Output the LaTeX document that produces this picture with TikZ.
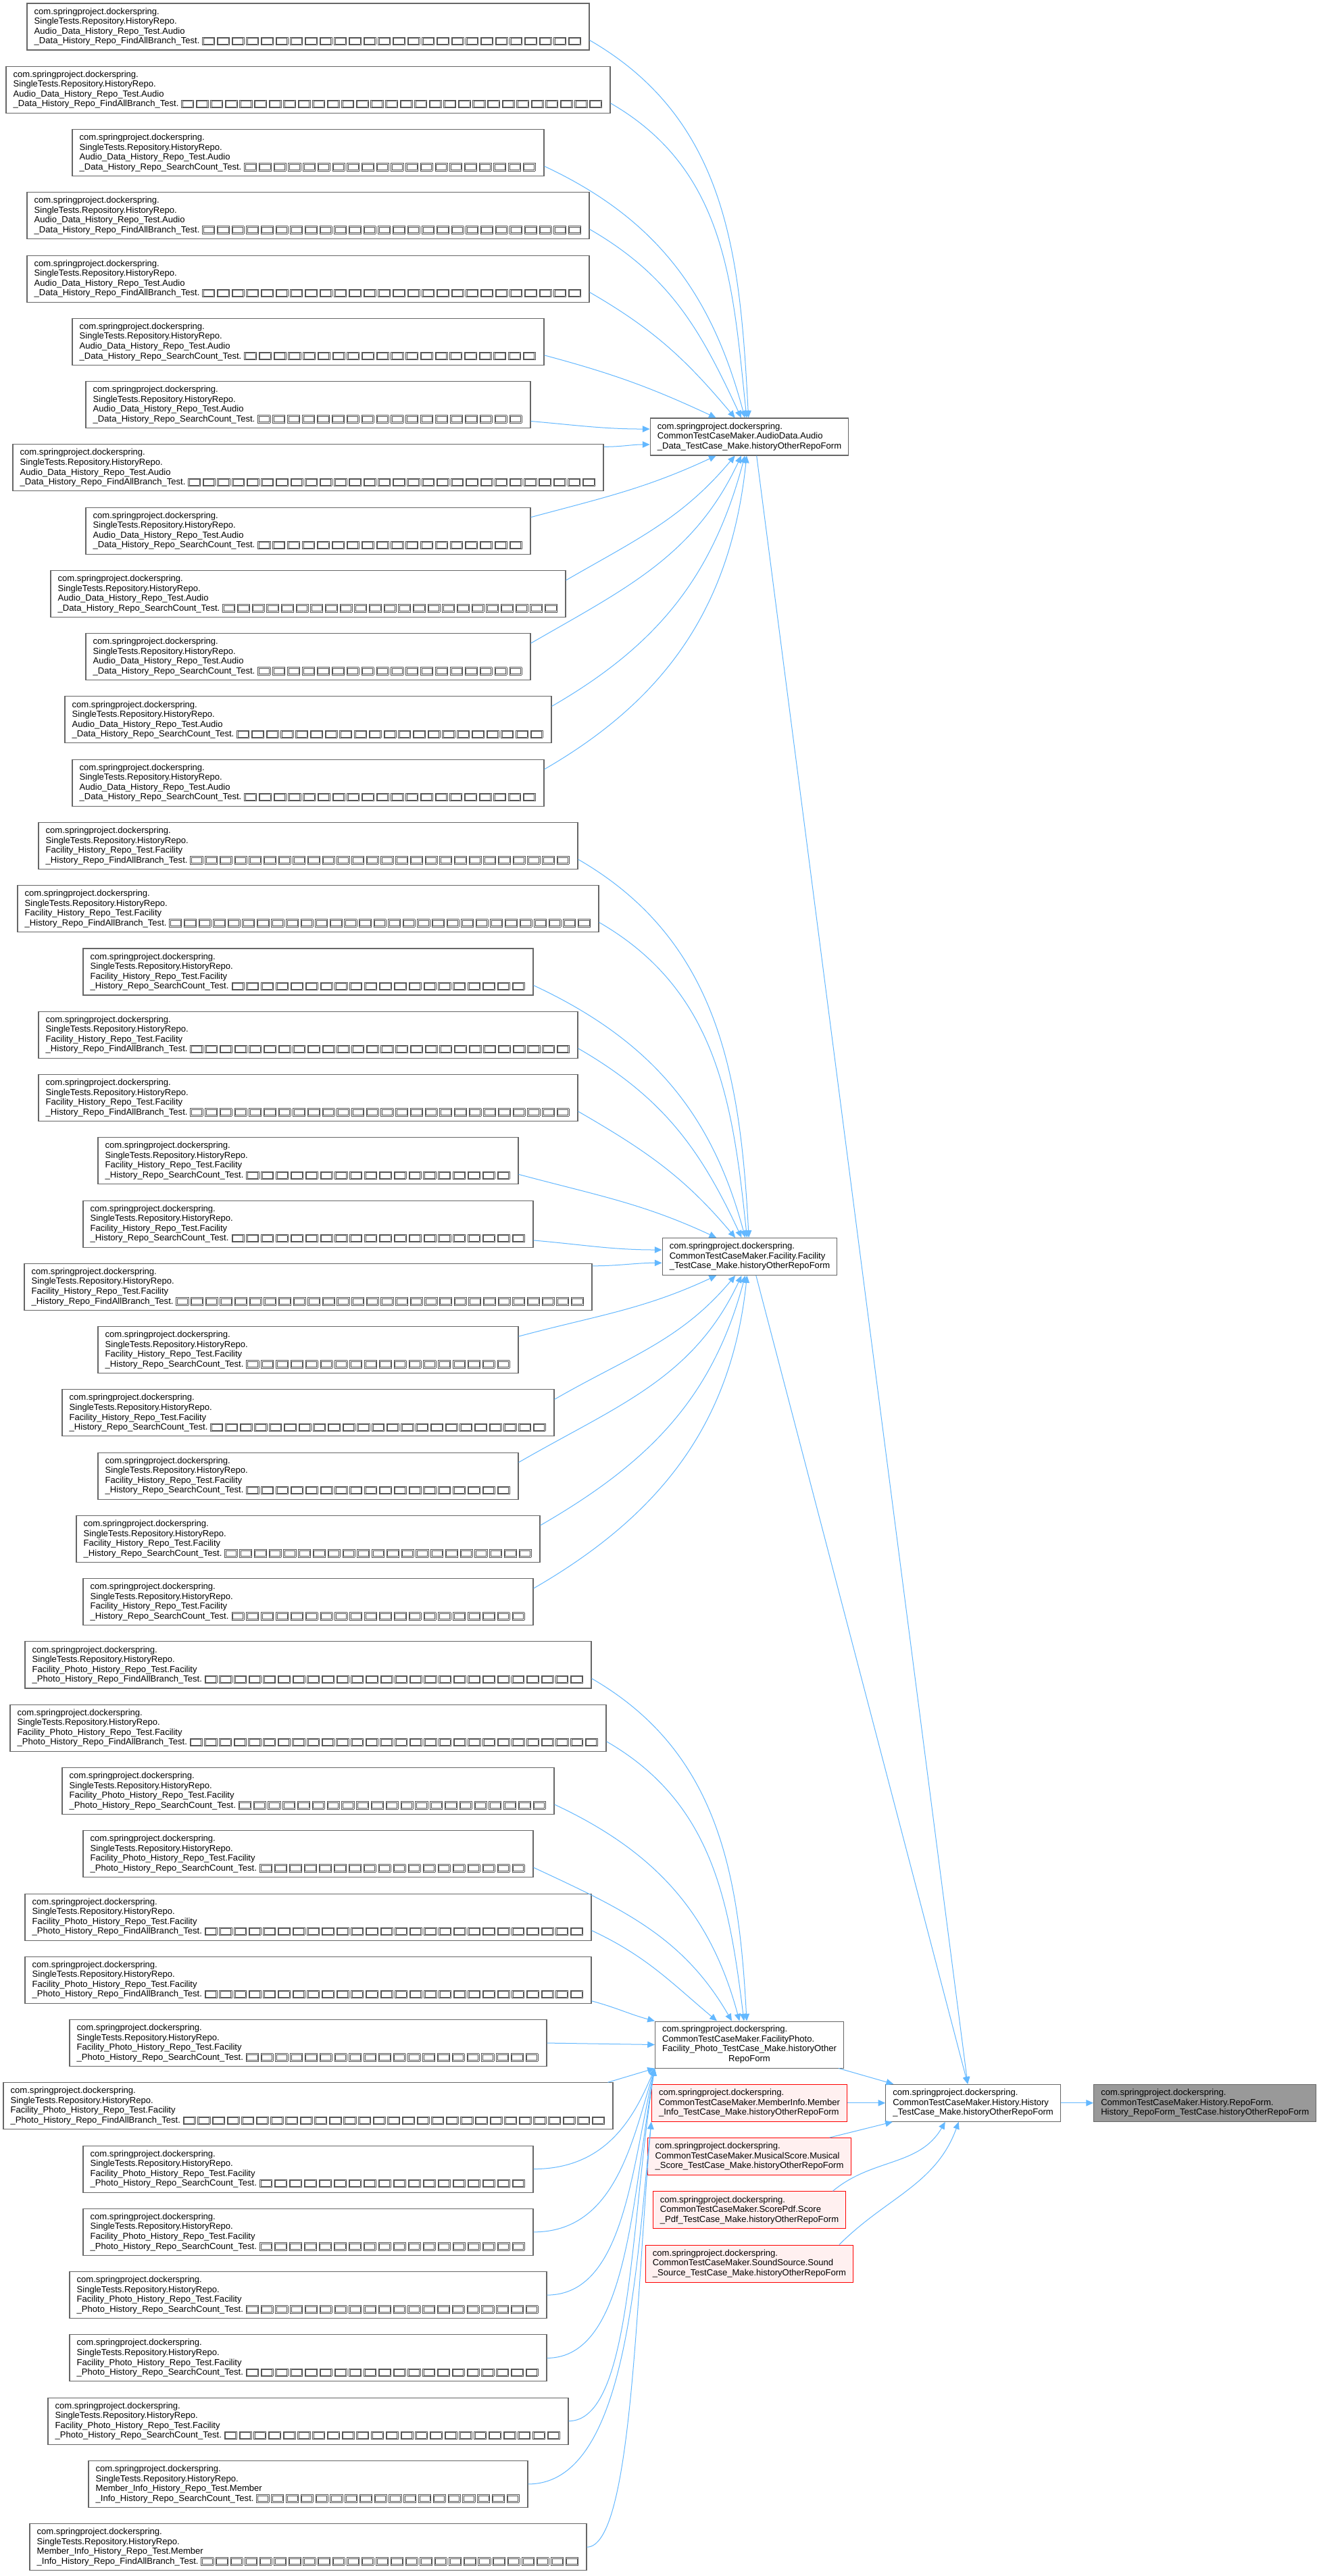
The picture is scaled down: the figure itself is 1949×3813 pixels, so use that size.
\documentclass[tikz,border=0pt]{standalone}
\usepackage{fontspec}
\setmainfont{Liberation Sans}
\usepackage{xcolor}
\usetikzlibrary{arrows.meta, positioning}
\definecolor{grey40}{HTML}{666666}
\definecolor{grey60}{HTML}{999999}
\definecolor{steelblue}{HTML}{63B8FF}
\definecolor{pinkbg}{HTML}{FFF0F0}
\definecolor{redline}{HTML}{FF0000}
\definecolor{tofugrey}{HTML}{555555}

% missing-glyph box, as the picture prints the Japanese part of the names
\newcommand{\tofu}{\hbox to 15.75pt{\hss\color{tofugrey}\fboxsep=0.7pt\fboxrule=0.4pt\fbox{\fboxsep=0pt\fbox{\rule{0pt}{6pt}\hspace{11pt}}}\hss}}
\newcommand{\tofurow}{\hspace{1.5pt}\xleaders\hbox{\tofu}\hfill\kern0pt}

\newcommand{\audiotest}[1]{com.springproject.dockerspring.\\SingleTests.Repository.HistoryRepo.\\Audio\_Data\_History\_Repo\_Test.Audio\\\_Data\_History\_Repo\_#1\_Test.\tofurow}
\newcommand{\facilitytest}[1]{com.springproject.dockerspring.\\SingleTests.Repository.HistoryRepo.\\Facility\_History\_Repo\_Test.Facility\\\_History\_Repo\_#1\_Test.\tofurow}
\newcommand{\phototest}[1]{com.springproject.dockerspring.\\SingleTests.Repository.HistoryRepo.\\Facility\_Photo\_History\_Repo\_Test.Facility\\\_Photo\_History\_Repo\_#1\_Test.\tofurow}
\newcommand{\membertest}[1]{com.springproject.dockerspring.\\SingleTests.Repository.HistoryRepo.\\Member\_Info\_History\_Repo\_Test.Member\\\_Info\_History\_Repo\_#1\_Test.\tofurow}

\begin{document}
\begin{tikzpicture}[x=0.75pt, y=-0.75pt, node distance=17.4pt,
  boxbase/.style={rectangle, draw=grey40, fill=white, line width=0.8pt, inner xsep=8pt, inner ysep=3pt, font={\fontsize{9.8pt}{10.9pt}\selectfont}},
  caller/.style={boxbase, text width=#1, minimum height=51.75pt, align=left},
  hub/.style={boxbase, minimum height=41.25pt, align=left},
  nodoc/.style={hub, draw=redline, fill=pinkbg},
  focus/.style={hub, fill=grey60},
  callto/.style={draw=steelblue, line width=0.75pt, -{Triangle[length=8pt,width=7pt]}}
]
\useasboundingbox (0,0) rectangle (1949,3813);
\fill[white] (0,0) rectangle (1949,3813);

% Audio tests
\node[caller=608pt] (a1) at (456,39.5) {\audiotest{FindAllBranch}};
\node[caller=654.5pt, below=of a1] (a2) {\audiotest{FindAllBranch}};
\node[caller=507.5pt, below=of a2] (a3) {\audiotest{SearchCount}};
\node[caller=608pt, below=of a3] (a4) {\audiotest{FindAllBranch}};
\node[caller=608pt, below=of a4] (a5) {\audiotest{FindAllBranch}};
\node[caller=507.5pt, below=of a5] (a6) {\audiotest{SearchCount}};
\node[caller=477.5pt, below=of a6] (a7) {\audiotest{SearchCount}};
\node[caller=639.5pt, below=of a7] (a8) {\audiotest{FindAllBranch}};
\node[caller=477.5pt, below=of a8] (a9) {\audiotest{SearchCount}};
\node[caller=555.5pt, below=of a9] (a10) {\audiotest{SearchCount}};
\node[caller=477.5pt, below=of a10] (a11) {\audiotest{SearchCount}};
\node[caller=524pt, below=of a11] (a12) {\audiotest{SearchCount}};
\node[caller=507.5pt, below=of a12] (a13) {\audiotest{SearchCount}};
% Facility tests
\node[caller=582.5pt, below=of a13] (f1) {\facilitytest{FindAllBranch}};
\node[caller=629pt, below=of f1] (f2) {\facilitytest{FindAllBranch}};
\node[caller=483.5pt, below=of f2] (f3) {\facilitytest{SearchCount}};
\node[caller=582.5pt, below=of f3] (f4) {\facilitytest{FindAllBranch}};
\node[caller=582.5pt, below=of f4] (f5) {\facilitytest{FindAllBranch}};
\node[caller=450.5pt, below=of f5] (f6) {\facilitytest{SearchCount}};
\node[caller=483.5pt, below=of f6] (f7) {\facilitytest{SearchCount}};
\node[caller=614pt, below=of f7] (f8) {\facilitytest{FindAllBranch}};
\node[caller=450.5pt, below=of f8] (f9) {\facilitytest{SearchCount}};
\node[caller=530pt, below=of f9] (f10) {\facilitytest{SearchCount}};
\node[caller=450.5pt, below=of f10] (f11) {\facilitytest{SearchCount}};
\node[caller=498.5pt, below=of f11] (f12) {\facilitytest{SearchCount}};
\node[caller=483.5pt, below=of f12] (f13) {\facilitytest{SearchCount}};
% Facility photo tests
\node[caller=612.5pt, below=of f13] (p1) {\phototest{FindAllBranch}};
\node[caller=645.5pt, below=of p1] (p2) {\phototest{FindAllBranch}};
\node[caller=530pt, below=of p2] (p3) {\phototest{SearchCount}};
\node[caller=483.5pt, below=of p3] (p4) {\phototest{SearchCount}};
\node[caller=612.5pt, below=of p4] (p5) {\phototest{FindAllBranch}};
\node[caller=612.5pt, below=of p5] (p6) {\phototest{FindAllBranch}};
\node[caller=513.5pt, below=of p6] (p7) {\phototest{SearchCount}};
\node[caller=660.5pt, below=of p7] (p8) {\phototest{FindAllBranch}};
\node[caller=483.5pt, below=of p8] (p9) {\phototest{SearchCount}};
\node[caller=483.5pt, below=of p9] (p10) {\phototest{SearchCount}};
\node[caller=513.5pt, below=of p10] (p11) {\phototest{SearchCount}};
\node[caller=513.5pt, below=of p11] (p12) {\phototest{SearchCount}};
\node[caller=561.5pt, below=of p12] (p13) {\phototest{SearchCount}};
% Member info tests
\node[caller=471.5pt, below=of p13] (m1) {\membertest{SearchCount}};
\node[caller=602pt, below=of m1] (m2) {\membertest{FindAllBranch}};

% test case makers
\node[hub] (aud) at (1109,646.5) {com.springproject.dockerspring.\\CommonTestCaseMaker.AudioData.Audio\\\_Data\_TestCase\_Make.historyOtherRepoForm};
\node[hub] (fac) at (1109.5,1860) {com.springproject.dockerspring.\\CommonTestCaseMaker.Facility.Facility\\\_TestCase\_Make.historyOtherRepoForm};
\node[boxbase, minimum height=51.75pt] (pho) at (1109,3026.5) {\begin{tabular}{@{}l@{}}com.springproject.dockerspring.\\CommonTestCaseMaker.FacilityPhoto.\\Facility\_Photo\_TestCase\_Make.historyOther\\\multicolumn{1}{@{}c@{}}{RepoForm}\end{tabular}};
\node[nodoc, below=of pho] (mem) {com.springproject.dockerspring.\\CommonTestCaseMaker.MemberInfo.Member\\\_Info\_TestCase\_Make.historyOtherRepoForm};
\node[nodoc, below=of mem] (mus) {com.springproject.dockerspring.\\CommonTestCaseMaker.MusicalScore.Musical\\\_Score\_TestCase\_Make.historyOtherRepoForm};
\node[nodoc, below=of mus] (pdf) {com.springproject.dockerspring.\\CommonTestCaseMaker.ScorePdf.Score\\\_Pdf\_TestCase\_Make.historyOtherRepoForm};
\node[nodoc, below=of pdf] (snd) {com.springproject.dockerspring.\\CommonTestCaseMaker.SoundSource.Sound\\\_Source\_TestCase\_Make.historyOtherRepoForm};
\node[hub, right=42pt of mem] (hist) {com.springproject.dockerspring.\\CommonTestCaseMaker.History.History\\\_TestCase\_Make.historyOtherRepoForm};
\node[focus, right=36pt of hist] (tgt) {com.springproject.dockerspring.\\CommonTestCaseMaker.History.RepoForm.\\History\_RepoForm\_TestCase.historyOtherRepoForm};

% audio calls
\draw[callto] ([yshift=-15pt]a1.east) to[out=-30,in=93] ([xshift=-1pt]aud.north);
\draw[callto] ([yshift=-15pt]a2.east) to[out=-30,in=96] ([xshift=-3pt]aud.north);
\draw[callto] ([yshift=-15pt]a3.east) to[out=-25,in=105] ([xshift=-5pt]aud.north);
\draw[callto] ([yshift=-15pt]a4.east) to[out=-30,in=115] ([xshift=-9pt]aud.north);
\draw[callto] ([yshift=-15pt]a5.east) to[out=-30,in=130] ([xshift=-16pt]aud.north);
\draw[callto] ([yshift=-15pt]a6.east) to[out=-15,in=155] ([xshift=-37pt]aud.north);
\draw[callto] ([yshift=8pt]a7.south east) to[out=-5,in=180] ([yshift=8.6pt]aud.west);
\draw[callto] ([yshift=-3pt]a8.north east) to[out=0,in=180] ([yshift=-8.6pt]aud.west);
\draw[callto] ([yshift=15pt]a9.east) to[out=15,in=-155] ([xshift=-37pt]aud.south);
\draw[callto] ([yshift=15pt]a10.east) to[out=30,in=-130] ([xshift=-16pt]aud.south);
\draw[callto] ([yshift=15pt]a11.east) to[out=30,in=-115] ([xshift=-9pt]aud.south);
\draw[callto] ([yshift=15pt]a12.east) to[out=30,in=-105] ([xshift=-5pt]aud.south);
\draw[callto] ([yshift=15pt]a13.east) to[out=30,in=-96] ([xshift=-3pt]aud.south);
% facility calls
\draw[callto] ([yshift=-15pt]f1.east) to[out=-30,in=93] ([xshift=-1pt]fac.north);
\draw[callto] ([yshift=-15pt]f2.east) to[out=-30,in=96] ([xshift=-3pt]fac.north);
\draw[callto] ([yshift=-15pt]f3.east) to[out=-25,in=105] ([xshift=-5pt]fac.north);
\draw[callto] ([yshift=-15pt]f4.east) to[out=-30,in=115] ([xshift=-9pt]fac.north);
\draw[callto] ([yshift=-15pt]f5.east) to[out=-30,in=130] ([xshift=-16pt]fac.north);
\draw[callto] ([yshift=-15pt]f6.east) to[out=-15,in=155] ([xshift=-37pt]fac.north);
\draw[callto] ([yshift=8pt]f7.south east) to[out=-5,in=180] ([yshift=7.5pt]fac.west);
\draw[callto] ([yshift=-3pt]f8.north east) to[out=0,in=180] ([yshift=-7pt]fac.west);
\draw[callto] ([yshift=15pt]f9.east) to[out=15,in=-155] ([xshift=-37pt]fac.south);
\draw[callto] ([yshift=15pt]f10.east) to[out=30,in=-130] ([xshift=-16pt]fac.south);
\draw[callto] ([yshift=15pt]f11.east) to[out=30,in=-115] ([xshift=-9pt]fac.south);
\draw[callto] ([yshift=15pt]f12.east) to[out=30,in=-105] ([xshift=-5pt]fac.south);
\draw[callto] ([yshift=15pt]f13.east) to[out=30,in=-96] ([xshift=-3pt]fac.south);
% facility photo calls
\draw[callto] ([yshift=-15pt]p1.east) to[out=-30,in=93] ([xshift=-3pt]pho.north);
\draw[callto] ([yshift=-15pt]p2.east) to[out=-30,in=97] ([xshift=-6pt]pho.north);
\draw[callto] ([yshift=-15pt]p3.east) to[out=-25,in=105] ([xshift=-11pt]pho.north);
\draw[callto] ([yshift=-15pt]p4.east) to[out=-25,in=120] ([xshift=-19.5pt]pho.north);
\draw[callto] ([yshift=-15pt]p5.east) to[out=-25,in=140] ([xshift=-36pt]pho.north);
\draw[callto] ([yshift=3pt]p6.south east) to[out=-15,in=165] (pho.north west);
\draw[callto] (p7.east) -- (pho.west);
\draw[callto] ([xshift=-6pt]p8.north east) -- (pho.south west);
\draw[callto] (p9.east) .. controls +(0:82pt) and +(-113:57pt) .. (pho.south west);
\draw[callto] (p10.east) .. controls +(0:90pt) and +(-107:86pt) .. (pho.south west);
\draw[callto] (p11.east) .. controls +(0:85pt) and +(-103:115pt) .. (pho.south west);
\draw[callto] (p12.east) .. controls +(0:90pt) and +(-100:145pt) .. (pho.south west);
\draw[callto] (p13.east) .. controls +(0:70pt) and +(-99:175pt) .. (pho.south west);
% member info calls
\draw[callto] (m1.east) .. controls +(0:110pt) and +(-96:166pt) .. (mem.south west);
\draw[callto] (m2.east) .. controls +(0:50pt) and +(-95:196pt) .. (mem.south west);
% into the history maker
\draw[callto] ([xshift=8pt]aud.south) -- ([xshift=-6pt]hist.north);
\draw[callto] ([xshift=7pt]fac.south) -- ([xshift=-6pt]hist.north);
\draw[callto] ([xshift=-6pt]pho.south east) -- ([xshift=9pt]hist.north west);
\draw[callto] (mem) -- (hist);
\draw[callto] ([xshift=-24pt]mus.north east) -- ([xshift=8pt]hist.south west);
\draw[callto] ([xshift=-15pt]pdf.north east) to[out=40,in=-120] ([xshift=-31pt]hist.south);
\draw[callto] ([xshift=-16pt]snd.north east) to[out=45,in=-110] ([xshift=-16pt]hist.south);
\draw[callto] (hist) -- (tgt);
\end{tikzpicture}
\end{document}
